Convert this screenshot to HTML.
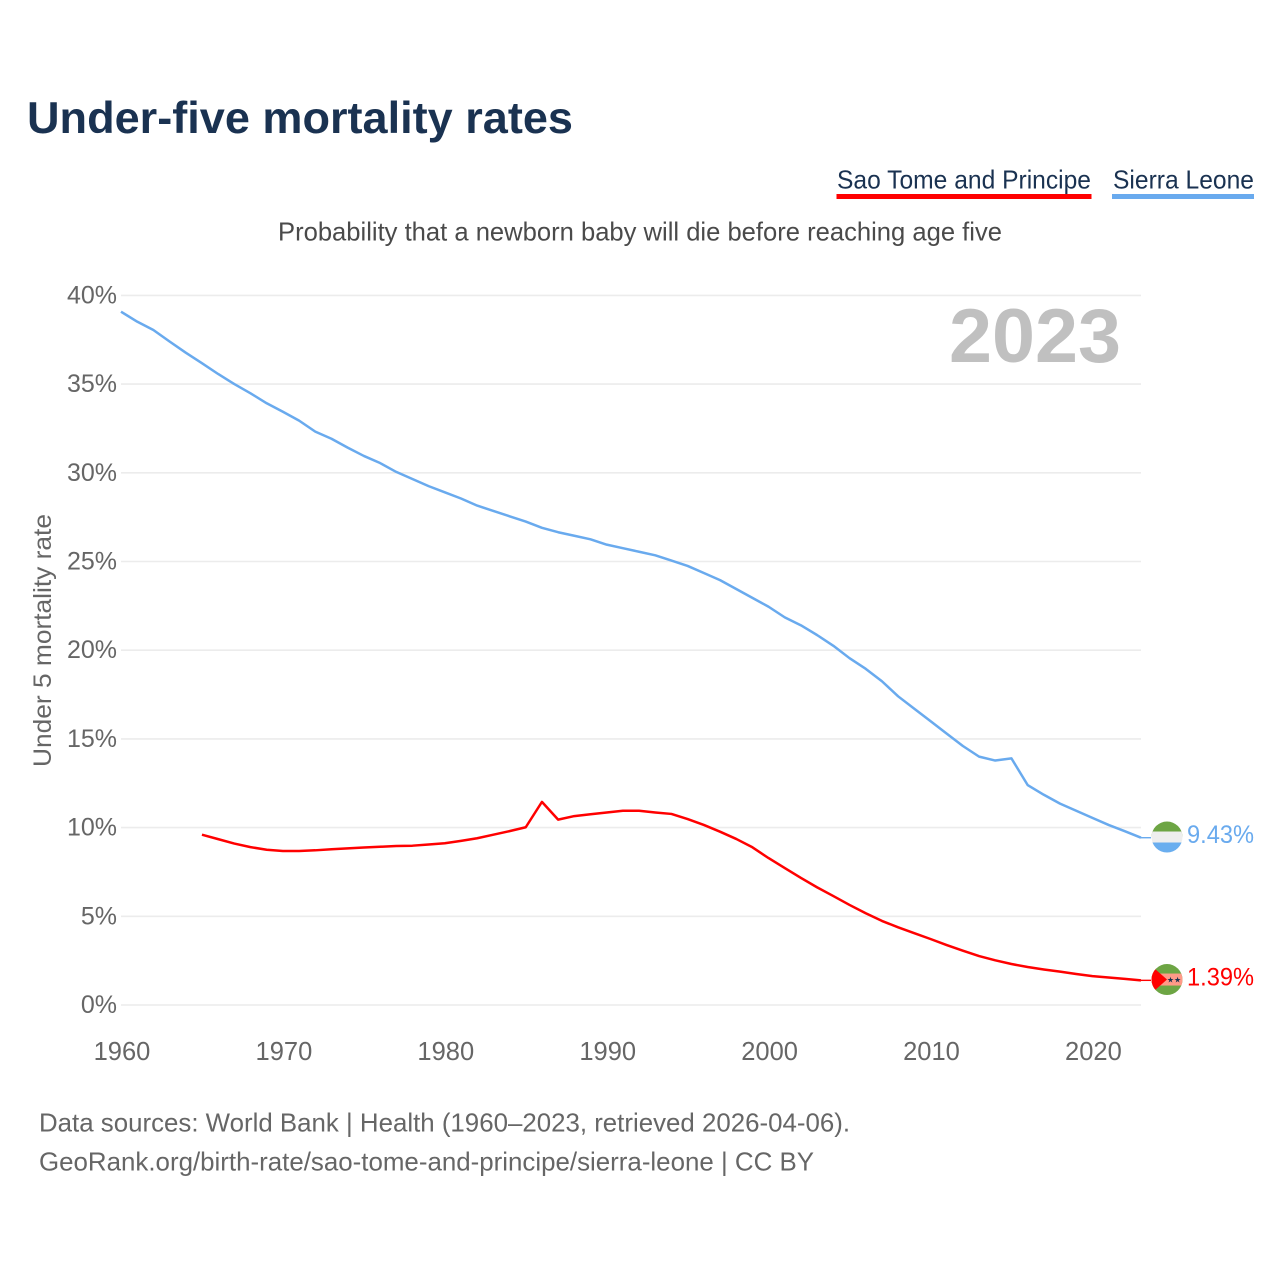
<!DOCTYPE html>
<html lang="en">
<head>
<meta charset="utf-8">
<title>Under-five mortality rates</title>
<style>
html,body{margin:0;padding:0;background:#fff;}
svg{display:block;font-family:"Liberation Sans",sans-serif;}
</style>
</head>
<body>
<svg id="chart" xmlns="http://www.w3.org/2000/svg" width="1280" height="1280" viewBox="0 0 1280 1280">
  <rect x="0" y="0" width="1280" height="1280" fill="#ffffff"/>
  <text x="27" y="133" font-size="44.500" font-weight="700" fill="#1a3251" textLength="546" lengthAdjust="spacingAndGlyphs">Under-five mortality rates</text>
  <g>
    <text x="837" y="188.500" font-size="26" fill="#1a3251" textLength="254" lengthAdjust="spacingAndGlyphs">Sao Tome and Principe</text>
    <rect x="836.500" y="194" width="255" height="5" fill="#ff0000"/>
  </g>
  <g>
    <text x="1113" y="188.500" font-size="26" fill="#1a3251" textLength="141" lengthAdjust="spacingAndGlyphs">Sierra Leone</text>
    <rect x="1112" y="194" width="142" height="5" fill="#69aaee"/>
  </g>
  <text x="278" y="240.500" font-size="26" fill="#4a4a4a" textLength="724" lengthAdjust="spacingAndGlyphs">Probability that a newborn baby will die before reaching age five</text>
  <g id="grid"></g>
  <g id="yticks"></g>
  <g id="xticks"></g>
  <text transform="translate(51,767) rotate(-90)" x="0" y="0" font-size="25" fill="#666666" textLength="253" lengthAdjust="spacingAndGlyphs">Under 5 mortality rate</text>
  <text x="949" y="362" font-size="76" font-weight="700" fill="#c0c0c0" textLength="172" lengthAdjust="spacingAndGlyphs">2023</text>
  <g id="series"></g>
  <defs>
    <clipPath id="clip-sl"><circle id="clip-sl-c" cx="1167" cy="0" r="15.500"/></clipPath>
    <clipPath id="clip-st"><circle id="clip-st-c" cx="1167" cy="0" r="15.500"/></clipPath>
  </defs>
  <g id="flag-sl" clip-path="url(#clip-sl)">
    <rect x="1151" y="0" width="32" height="16" fill="#6da544"/>
    <rect x="1151" y="0" width="32" height="11" fill="#eeeeee"/>
    <rect x="1151" y="0" width="32" height="16" fill="#6aaeef"/>
  </g>
  <g id="flag-st" clip-path="url(#clip-st)">
    <rect x="1151" y="0" width="32" height="32" fill="#6da544"/>
    <rect x="1151" y="0" width="32" height="12" fill="#ff9a88"/>
    <polygon points="" fill="#ff0000"/>
    <text x="1174" y="0" font-size="8" text-anchor="middle" fill="#1a3251" style="font-family:'DejaVu Sans',sans-serif">★★</text>
  </g>
  <g id="endlabels"></g>
  <text x="39" y="1131.500" font-size="26" fill="#666666" textLength="811" lengthAdjust="spacingAndGlyphs">Data sources: World Bank | Health (1960–2023, retrieved 2026-04-06).</text>
  <text x="39" y="1170.500" font-size="26" fill="#666666" textLength="775" lengthAdjust="spacingAndGlyphs">GeoRank.org/birth-rate/sao-tome-and-principe/sierra-leone | CC BY</text>
</svg>
<script>
var yTickValues = [0, 5, 10, 15, 20, 25, 30, 35, 40];
var xTickYears = [1960, 1970, 1980, 1990, 2000, 2010, 2020];
var sierraLeoneStartYear = 1960;
var sierraLeoneValues = [39.08, 38.52, 38.05, 37.4, 36.77, 36.18, 35.57, 35.0, 34.48, 33.92,
  33.44, 32.94, 32.32, 31.92, 31.42, 30.95, 30.55, 30.05, 29.65, 29.25,
  28.9, 28.55, 28.15, 27.85, 27.55, 27.25, 26.9, 26.65, 26.45, 26.25,
  25.95, 25.75, 25.55, 25.35, 25.05, 24.75, 24.35, 23.95, 23.45, 22.95,
  22.45, 21.85, 21.4, 20.85, 20.25, 19.55, 18.95, 18.25, 17.4, 16.7,
  16.0, 15.3, 14.6, 14.0, 13.78, 13.9, 12.4, 11.85, 11.35, 10.95,
  10.55, 10.15, 9.8, 9.43];
var saoTomeStartYear = 1965;
var saoTomeValues = [9.6, 9.35, 9.1, 8.9, 8.75,
  8.68, 8.68, 8.72, 8.78, 8.83, 8.88, 8.92, 8.96, 8.98, 9.05,
  9.12, 9.25, 9.4, 9.6, 9.8, 10.02, 11.45, 10.45, 10.65, 10.75,
  10.85, 10.95, 10.95, 10.85, 10.77, 10.48, 10.15, 9.77, 9.36, 8.89,
  8.28, 7.72, 7.16, 6.63, 6.14, 5.64, 5.17, 4.74, 4.38, 4.05,
  3.72, 3.38, 3.06, 2.76, 2.52, 2.31, 2.14, 2.0, 1.88, 1.75,
  1.63, 1.55, 1.47, 1.39];

var NS = 'http://www.w3.org/2000/svg';
function xScale(year) { return 121 + (year - 1960) * 16.19; }
function yScale(value) { return 1005 - value * 17.74; }

function make(tag, attrs, parent, text) {
  var el = document.createElementNS(NS, tag);
  for (var k in attrs) { el.setAttribute(k, attrs[k]); }
  if (text !== undefined) { el.textContent = text; }
  parent.appendChild(el);
  return el;
}

var grid = document.getElementById('grid');
var yticks = document.getElementById('yticks');
yTickValues.forEach(function (v) {
  var line = make('line', {x1: 121, x2: 1141, y1: yScale(v), y2: yScale(v), stroke: '#ececec', 'stroke-width': 1.6}, grid);
  
  
  var label = make('text', {x: 117, y: yScale(v) + 8, 'font-size': 25, fill: '#666666', 'text-anchor': 'end'}, yticks, v + '%');
  
  
});

var xticks = document.getElementById('xticks');
xTickYears.forEach(function (yr) {
  var label = make('text', {x: xScale(yr) + 1, y: 1060, 'font-size': 25.5, fill: '#666666', 'text-anchor': 'middle'}, xticks, String(yr));
  
  
});

function linePath(startYear, values) {
  return values.map(function (v, i) {
    return (i ? 'L' : 'M') + xScale(startYear + i).toFixed(2) + ' ' + yScale(v).toFixed(2);
  }).join(' ');
}

var slLast = sierraLeoneValues[sierraLeoneValues.length - 1];
var stLast = saoTomeValues[saoTomeValues.length - 1];

var seriesGroup = document.getElementById('series');
var slLine = make('path', {d: linePath(sierraLeoneStartYear, sierraLeoneValues), fill: 'none', stroke: '#69aaee', 'stroke-width': 2.5, 'stroke-linejoin': 'round'}, seriesGroup);


var slStub = make('line', {x1: xScale(2023), x2: 1151, y1: yScale(slLast), y2: yScale(slLast), stroke: '#69aaee', 'stroke-width': 1.4}, seriesGroup);


var stLine = make('path', {d: linePath(saoTomeStartYear, saoTomeValues), fill: 'none', stroke: '#ff0000', 'stroke-width': 2.5, 'stroke-linejoin': 'round'}, seriesGroup);


var stStub = make('line', {x1: xScale(2023), x2: 1151, y1: yScale(stLast), y2: yScale(stLast), stroke: '#ff0000', 'stroke-width': 1.4}, seriesGroup);



var slY = yScale(slLast) - 0.7;
var stY = yScale(stLast) - 0.8;

document.getElementById('clip-sl-c').setAttribute('cy', slY);
document.getElementById('clip-st-c').setAttribute('cy', stY);

var slRects = document.querySelectorAll('#flag-sl rect');
slRects[0].setAttribute('y', slY - 16);
slRects[1].setAttribute('y', slY - 5.5);
slRects[2].setAttribute('y', slY + 5.5);

var stFlag = document.getElementById('flag-st');
stFlag.querySelectorAll('rect')[0].setAttribute('y', stY - 16);
stFlag.querySelectorAll('rect')[1].setAttribute('y', stY - 6);
stFlag.querySelector('polygon').setAttribute('points', '1150,' + (stY - 15) + ' 1167,' + stY + ' 1150,' + (stY + 15));
stFlag.querySelector('text').setAttribute('y', stY + 3);

var endGroup = document.getElementById('endlabels');
var slLabel = make('text', {x: 1187, y: slY + 6, 'font-size': 25, fill: '#69aaee', textLength: 67, lengthAdjust: 'spacingAndGlyphs'}, endGroup, slLast.toFixed(2) + '%');


var stLabel = make('text', {x: 1187, y: stY + 6, 'font-size': 25, fill: '#ff0000', textLength: 67, lengthAdjust: 'spacingAndGlyphs'}, endGroup, stLast.toFixed(2) + '%');


</script>
</body>
</html>
